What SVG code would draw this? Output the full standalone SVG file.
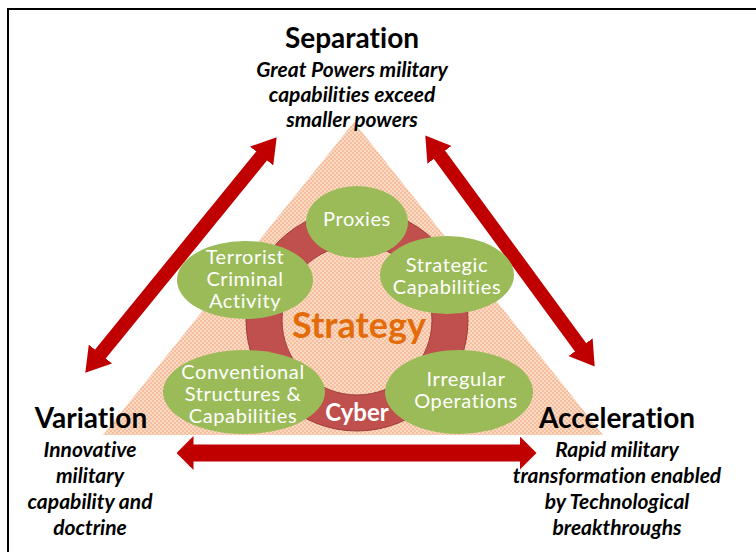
<svg xmlns="http://www.w3.org/2000/svg" width="756" height="552" viewBox="0 0 756 552">
  <style>
    text { font-variant-ligatures: none; }
    .title { font-family: Lato, "Open Sans", sans-serif; font-weight: bold; font-size: 28px; fill: #000; text-anchor: middle; }
    .desc { font-family: Lato, "Open Sans", sans-serif; font-weight: bold; font-style: italic; font-size: 21px; fill: #000; text-anchor: middle; }
    .node { fill: #9BBB59; }
    .nodetext { font-family: Lato, "Open Sans", sans-serif; font-size: 20px; letter-spacing: 0.6px; fill: #FFFFFF; text-anchor: middle; }
    .arr { stroke: #C00000; fill: none; }
  </style>
  <defs>
    <pattern id="dots" width="4" height="4" patternUnits="userSpaceOnUse">
      <rect width="4" height="4" fill="#FADAC5"/>
      <rect width="2" height="2" fill="#F5BF9E"/>
      <rect x="2" y="2" width="2" height="2" fill="#F5BF9E"/>
    </pattern>
    <marker id="headD" markerUnits="userSpaceOnUse" viewBox="0 0 24 30" refX="0.5" refY="15" markerWidth="24" markerHeight="30" orient="auto-start-reverse">
      <path d="M0,0 L24,15 L0,30 Z" fill="#C00000"/>
    </marker>
    <marker id="headH" markerUnits="userSpaceOnUse" viewBox="0 0 17 34" refX="0.5" refY="17" markerWidth="17" markerHeight="34" orient="auto-start-reverse">
      <path d="M0,0 L17,17 L0,34 Z" fill="#C00000"/>
    </marker>
  </defs>

  <rect x="8" y="9" width="760" height="560" fill="#FFFFFF" stroke="#000000" stroke-width="2"/>

  <g id="triangle">
    <polygon points="354,122 103,435 603,435" fill="url(#dots)"/>
  </g>

  <g id="connectors">
    <line class="arr" x1="100.1" y1="354.4" x2="261.9" y2="155.6" stroke-width="14" marker-start="url(#headD)" marker-end="url(#headD)"/>
    <line class="arr" x1="439.2" y1="154.4" x2="580.8" y2="347.6" stroke-width="14" marker-start="url(#headD)" marker-end="url(#headD)"/>
    <line class="arr" x1="193" y1="453" x2="520" y2="453" stroke-width="17" marker-start="url(#headH)" marker-end="url(#headH)"/>
  </g>

  <g id="strategy">
    <circle cx="357" cy="320" r="93" fill="none" stroke="#C0504D" stroke-width="36"/>
    <circle cx="357" cy="320" r="111" fill="none" stroke="#9E3A38" stroke-width="1"/>
    <circle cx="357" cy="320" r="75" fill="none" stroke="#9E3A38" stroke-width="1"/>
    <text x="359" y="338" font-family="Lato, 'Open Sans', sans-serif" font-weight="bold" font-size="36" fill="#E36C09" text-anchor="middle">Strategy</text>
  </g>

  <g id="cyber">
    <text x="357" y="421" font-family="Lato, 'Open Sans', sans-serif" font-weight="bold" font-size="24" fill="#FFFFFF" text-anchor="middle">Cyber</text>
  </g>

  <g id="proxies">
    <ellipse class="node" cx="357" cy="222" rx="51" ry="36"/>
    <text class="nodetext" x="357" y="226">Proxies</text>
  </g>

  <g id="terrorist">
    <ellipse class="node" cx="245" cy="280" rx="68" ry="39"/>
    <text class="nodetext" x="245" y="264">Terrorist</text>
    <text class="nodetext" x="245" y="286">Criminal</text>
    <text class="nodetext" x="245" y="308">Activity</text>
  </g>

  <g id="strategic">
    <ellipse class="node" cx="447" cy="275" rx="67" ry="39"/>
    <text class="nodetext" x="447" y="272">Strategic</text>
    <text class="nodetext" x="447" y="294">Capabilities</text>
  </g>

  <g id="conventional">
    <ellipse class="node" cx="244" cy="392" rx="81" ry="42"/>
    <text class="nodetext" x="243" y="379">Conventional</text>
    <text class="nodetext" x="243" y="401">Structures &amp;</text>
    <text class="nodetext" x="243" y="423">Capabilities</text>
  </g>

  <g id="irregular">
    <ellipse class="node" cx="459" cy="392" rx="74" ry="42"/>
    <text class="nodetext" x="466" y="386">Irregular</text>
    <text class="nodetext" x="466" y="408">Operations</text>
  </g>

  <g id="separation">
    <text class="title" x="352" y="48">Separation</text>
    <text class="desc" x="352" y="77">Great Powers military</text>
    <text class="desc" x="352" y="102">capabilities exceed</text>
    <text class="desc" x="352" y="127">smaller powers</text>
  </g>

  <g id="variation">
    <text class="title" x="91" y="428">Variation</text>
    <text class="desc" x="90" y="457">Innovative</text>
    <text class="desc" x="90" y="483">military</text>
    <text class="desc" x="90" y="509">capability and</text>
    <text class="desc" x="90" y="535">doctrine</text>
  </g>

  <g id="acceleration">
    <text class="title" x="617" y="428">Acceleration</text>
    <text class="desc" x="617" y="457">Rapid military</text>
    <text class="desc" x="617" y="483">transformation enabled</text>
    <text class="desc" x="617" y="509">by Technological</text>
    <text class="desc" x="617" y="535">breakthroughs</text>
  </g>
</svg>
